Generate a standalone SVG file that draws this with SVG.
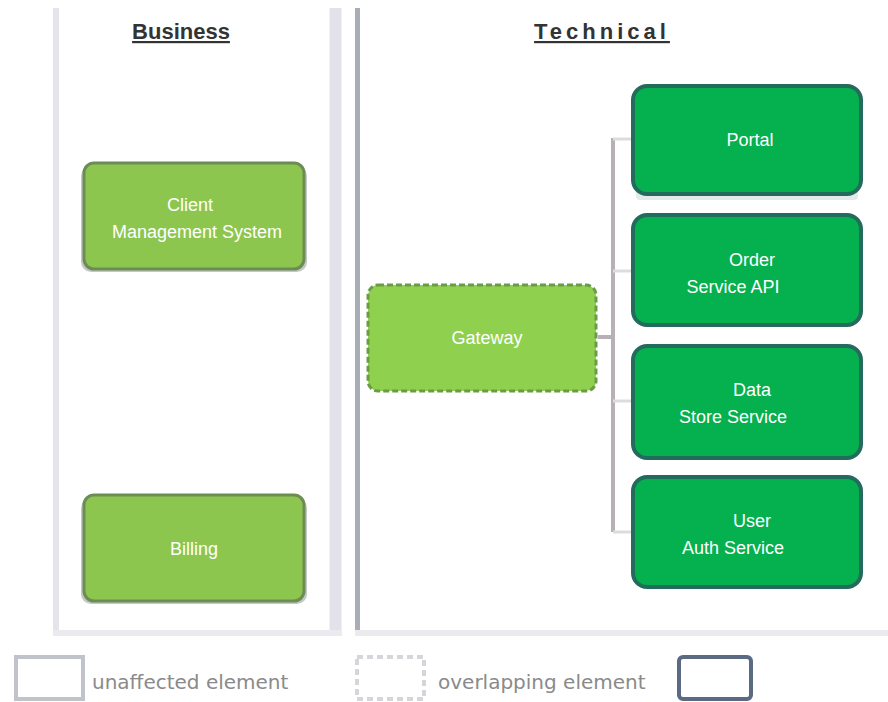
<svg xmlns="http://www.w3.org/2000/svg" width="888" height="702" viewBox="0 0 888 702">
<defs>
<style>
.title{font-family:"Liberation Sans",Arial,sans-serif;font-weight:bold;font-size:22px;fill:#333;text-anchor:middle;text-decoration:underline}
.lt{font-family:"Liberation Sans",Arial,sans-serif;font-size:18px;fill:#ffffff;text-anchor:middle}
.leg{font-family:"DejaVu Sans",sans-serif;font-size:20px;fill:#8a8a8a}
.lg{fill:#8dc64e;stroke:#6d8c55;stroke-width:3}
.mid{fill:#8fd14f;stroke:#6b9b45;stroke-width:3;stroke-dasharray:6 3}
.dg{fill:#05b04e;stroke:#236b5c;stroke-width:4}
.shadow{fill:#c3c8c6}
.conn{fill:none;stroke:#b7b1b7;stroke-width:4}
.stub{fill:none;stroke:#dcdcdc;stroke-width:3}
</style>
</defs>
<rect width="888" height="702" fill="#ffffff"/>
<g id="lanes">
<line x1="56" y1="8" x2="56" y2="636" stroke="#e4e4ea" stroke-width="6"/>
<line x1="335.5" y1="8" x2="335.5" y2="636" stroke="#e2e2e8" stroke-width="12"/>
<line x1="357.5" y1="8" x2="357.5" y2="636" stroke="#a9adb6" stroke-width="5"/>
<line x1="53" y1="633" x2="342" y2="633" stroke="#ebebef" stroke-width="6"/>
<line x1="355" y1="633" x2="888" y2="633" stroke="#ebebef" stroke-width="6"/>
<text class="title" x="181" y="39">Business</text>
<text class="title" x="602" y="39" letter-spacing="4">Technical</text>
</g>
<g id="connectors">
<line class="conn" x1="598" y1="337" x2="613" y2="337"/>
<line class="conn" x1="613" y1="138" x2="613" y2="532"/>
<line class="stub" x1="613" y1="139" x2="632" y2="139"/>
<line class="stub" x1="613" y1="271" x2="632" y2="271"/>
<line class="stub" x1="613" y1="401" x2="632" y2="401"/>
<line class="stub" x1="613" y1="532" x2="632" y2="532"/>
</g>
<g id="node-b1">
<rect class="shadow" x="81" y="166" width="226" height="106" rx="10"/>
<rect class="lg" x="84" y="163" width="220" height="106" rx="10"/>
<text class="lt" x="190" y="211">Client</text>
<text class="lt" x="197" y="238">Management System</text>
</g>
<g id="node-b2">
<rect class="shadow" x="81" y="498" width="226" height="106" rx="10"/>
<rect class="lg" x="84" y="495" width="220" height="106" rx="10"/>
<text class="lt" x="194" y="555">Billing</text>
</g>
<g id="node-mid">
<rect class="mid" x="368" y="285" width="228" height="106" rx="10"/>
<text class="lt" x="487" y="344">Gateway</text>
</g>
<g id="node-t1">
<rect fill="#e4e9ea" x="636" y="188" width="222" height="12" rx="4"/>
<rect class="dg" x="633" y="86" width="228" height="108" rx="14"/>
<text class="lt" x="750" y="146">Portal</text>
</g>
<g id="node-t2">
<rect class="dg" x="633" y="215" width="228" height="110" rx="14"/>
<text class="lt" x="752" y="266">Order</text>
<text class="lt" x="733" y="293">Service API</text>
</g>
<g id="node-t3">
<rect class="dg" x="633" y="346" width="228" height="112" rx="14"/>
<text class="lt" x="752" y="396">Data</text>
<text class="lt" x="733" y="423">Store Service</text>
</g>
<g id="node-t4">
<rect class="dg" x="633" y="477" width="228" height="110" rx="14"/>
<text class="lt" x="752" y="527">User</text>
<text class="lt" x="733" y="554">Auth Service</text>
</g>
<g id="legend">
<rect x="16" y="657" width="67" height="42" fill="#fff" stroke="#c0c3ca" stroke-width="4"/>
<text class="leg" x="92" y="689">unaffected element</text>
<rect x="357" y="657" width="67" height="42" fill="#fff" stroke="#d4d6da" stroke-width="4" stroke-dasharray="6 4"/>
<text class="leg" x="438" y="689">overlapping element</text>
<rect x="679" y="657" width="72" height="42" rx="4" fill="#fff" stroke="#5a6a82" stroke-width="4"/>
</g>
</svg>
